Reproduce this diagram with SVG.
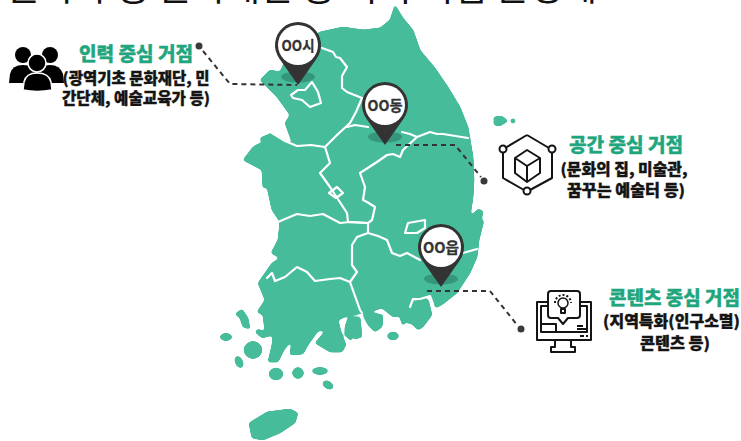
<svg xmlns="http://www.w3.org/2000/svg" width="741" height="441" viewBox="0 0 741 441">
<style>
.t{font-family:"Noto Sans CJK KR","Noto Sans",sans-serif;font-weight:900;text-anchor:middle;stroke-width:.35}
.h{font-size:19px;fill:#1fa67e;stroke:#1fa67e}
.b{font-size:15.5px;fill:#141414;stroke:#141414}
.title{font-size:38px;font-weight:400;fill:#111;stroke:none}
.land{fill:#47bc9a;stroke:#47bc9a;stroke-width:1;stroke-linejoin:round}
.border{fill:none;stroke:#fff;stroke-width:2.2;stroke-linejoin:round;stroke-linecap:round}
.dash{fill:none;stroke:#333;stroke-width:2;stroke-dasharray:5 4}
.dot{fill:#3a3a3a}
.ic{fill:none;stroke:#141414;stroke-width:2;stroke-linejoin:round}
.pt{font-family:"Noto Sans CJK KR","Noto Sans",sans-serif;font-weight:700;font-size:15px;fill:#333;text-anchor:middle;stroke:#333;stroke-width:.3}
</style>
<defs>
<filter id="soft" x="-5%" y="-5%" width="110%" height="110%" color-interpolation-filters="sRGB">
<feGaussianBlur stdDeviation="1.6" result="b"/>
<feComponentTransfer in="b" result="m"><feFuncA type="linear" slope="6" intercept="-2.5"/></feComponentTransfer>
<feFlood flood-color="#47bc9a"/>
<feComposite in2="m" operator="in"/>
</filter>
<filter id="blur1"><feGaussianBlur stdDeviation=".45"/></filter>
<g id="pin">
<ellipse cx="0" cy="32" rx="17" ry="5.5" fill="#2f8a70" opacity=".75"/>
<path d="M0 40 L-18.7 13.4 A23 23 0 1 1 18.7 13.4 Z" fill="#333"/>
<circle r="20" fill="#fff"/>
</g>
</defs>
<text class="t title" x="302" y="0" textLength="590" lengthAdjust="spacingAndGlyphs">문화 수용 문화재단 등 지역 거점 운영체</text>
<g id="map">
<g filter="url(#soft)">
<path class="land" d="M395 5L403 18L413 30L420 50L435 68L448 87L460 107L468 127L473 157L474 180L473 197L470 217L478 209L483 211L481 222L484 220L479 240L477 257L470 273L457 293L443 304L436 308L430 295L420 299L413 299L410 308L405 318L400 316L393 317L382 308L372 311L362 313L347 316L338 320L341 332L346 345L342 352L330 352L315 343L326 330L318 331L308 345L303 354L290 355L292 340L284 350L278 362L268 362L272 345L273 335L262 338L255 332L258 329L265 332L263 315L257 312L265 300L258 283L272 263L280 258L271 253L278 240L280 222L272 210L267 187L263 188L262 170L243 160L253 147L260 143L265 150L260 138L272 133L293 145L285 123L290 115L277 97L260 80L270 70L280 72L290 50L320 32L343 27L363 30L380 28L390 20Z"/>
<path class="land" d="M412 303L428 299L432 315L423 327L418 330L412 324L405 322L403 326L400 318Z"/>
<path class="land" d="M345 327L348 318L360 317L362 337L355 339L350 335L352 342L345 335Z"/>
<path class="land" d="M363 315L373 313L383 315L382 327L375 332L368 325Z"/>
<path class="land" d="M235 314L242 309L248 318L250 329L243 327L240 318Z"/>
<path class="land" d="M249 423L267 412L290 409L298 413L295 423L280 433L263 440L252 438Z"/>
<path class="land" d="M494 117L502 116L508 121L500 126L494 125Z"/>
<circle class="land" cx="513" cy="121" r="2.4"/>
<ellipse class="land" cx="226" cy="337" rx="6" ry="3.6"/>
<ellipse class="land" cx="253" cy="350" rx="9" ry="8.5"/>
<ellipse class="land" cx="239" cy="362" rx="3.6" ry="6" transform="rotate(-25 239 362)"/>
<ellipse class="land" cx="276" cy="374" rx="7" ry="6"/>
<circle class="land" cx="298" cy="373" r="5.5"/>
<ellipse class="land" cx="320" cy="371" rx="8" ry="3.4"/>
<ellipse class="land" cx="328" cy="385" rx="5.6" ry="3.6" transform="rotate(30 328 385)"/>
<ellipse class="land" cx="393" cy="336" rx="5.6" ry="4"/>
</g>
<g filter="url(#blur1)">
<path class="border" d="M291 95L298 90L305 90L312 82L318 92L321 103L310 107L302 100L293 98Z"/>
<path class="border" d="M322 48L333 52L336 57L340 58L347 67L342 76L342 88L347 92L362 98L356 112L350 123L337 135L325 147L311 145L297 146L285 141L272 133"/>
<path class="border" d="M347 127L355 125L368 127"/>
<path class="border" d="M402 132L410 134L417 137L430 132L437 134L443 134L468 138"/>
<path class="border" d="M417 137L403 150L400 157L393 154L387 155L377 162L360 173L365 187L363 200L367 202L375 207L372 220L368 223"/>
<path class="border" d="M325 147L330 163L320 173L330 187L347 213L348 222L368 223"/>
<path class="border" d="M329 193L337 187L343 193L336 198Z"/>
<path class="border" d="M278 222L285 219L297 214L310 216L323 214L340 223L350 222L368 223L368 233L357 237L352 245L352 265L357 272L350 282"/>
<path class="border" d="M368 233L378 236L387 240L392 253L400 256L407 253L420 260"/>
<path class="border" d="M463 253L477 249"/>
<path class="border" d="M267 278L272 273L275 281L285 277L297 267L307 272L315 281L330 279L340 278L350 282L360 310L362 313"/>
<path class="border" d="M405 233L408 223L425 220L425 228L417 233Z"/>
<path class="border" d="M410 307L413 299L420 299L430 296L433 304"/>
</g>
</g>
<g id="connectors">
<path class="dash" d="M203 51L230 84L297 85"/>
<circle class="dot" cx="199" cy="46" r="3.5"/>
<path class="dash" d="M396 145L455 145L481 177"/>
<circle class="dot" cx="484" cy="181" r="3.5"/>
<path class="dash" d="M427 291L490 291L518 326"/>
<circle class="dot" cx="521" cy="329" r="3.5"/>
</g>
<g id="pin-si"><use href="#pin" x="298" y="45"/><text class="pt" x="298" y="51" textLength="33" lengthAdjust="spacingAndGlyphs">OO시</text></g>
<g id="pin-dong"><use href="#pin" x="385" y="105"/><text class="pt" x="385" y="111" textLength="35" lengthAdjust="spacingAndGlyphs">OO동</text></g>
<g id="pin-eup"><use href="#pin" x="441" y="247"/><text class="pt" x="441" y="253" textLength="36" lengthAdjust="spacingAndGlyphs">OO읍</text></g>
<g id="people">
<circle cx="23" cy="55" r="8"/><circle cx="50" cy="55" r="8"/>
<path d="M9 83L10 74Q12 65 23 65Q34 65 36 74L36 83Z"/>
<path d="M37 83L38 74Q40 65 50 65Q60 65 63 74L64 83Z"/>
<circle cx="37" cy="63" r="9" stroke="#fff" stroke-width="1.5"/>
<path d="M23 90L24 82Q26 73 37 73Q49 73 51 82L52 90Q37 93 23 90Z" stroke="#fff" stroke-width="1.5"/>
</g>
<g id="label-people">
<text class="t h" x="136" y="61" textLength="114" lengthAdjust="spacingAndGlyphs">인력 중심 거점</text>
<text class="t b" x="136" y="84" textLength="147" lengthAdjust="spacingAndGlyphs">(광역기초 문화재단, 민</text>
<text class="t b" x="136" y="104" textLength="148" lengthAdjust="spacingAndGlyphs">간단체, 예술교육가 등)</text>
</g>
<g id="space-icon">
<path class="ic" d="M527 135L549 148M505 148L527 135M552 153L552 178L530 190M524 190L503 178L503 153"/>
<circle class="ic" cx="503" cy="149" r="3.5"/><circle class="ic" cx="552" cy="149" r="3.5"/><circle class="ic" cx="527" cy="191" r="3.5"/>
<path class="ic" d="M527 150L540 158L540 173L527 182L515 173L515 158ZM515 158L527 166L540 158M527 166L527 182"/>
</g>
<g id="label-space">
<text class="t h" x="626" y="152" textLength="114" lengthAdjust="spacingAndGlyphs">공간 중심 거점</text>
<text class="t b" x="624" y="175" textLength="127" lengthAdjust="spacingAndGlyphs">(문화의 집, 미술관,</text>
<text class="t b" x="626" y="196" textLength="118" lengthAdjust="spacingAndGlyphs">꿈꾸는 예술터 등)</text>
</g>
<g id="content-icon">
<path class="ic" d="M548 302L537 302L537 340L591 340L591 302L580 302M548 306L541 306L541 332L587 332L587 306L580 306"/>
<path class="ic" d="M541 324L556 324L556 332"/>
<path class="ic" d="M551 291L577 291Q580 291 580 294L580 315Q580 318 577 318L568 318L563 324L558 318L551 318Q548 318 548 315L548 294Q548 291 551 291Z"/>
<circle cx="563" cy="303" r="5" fill="none" stroke="#141414" stroke-width="1.5"/>
<path class="ic" stroke-width="1.5" d="M561 309L565 309L565 313L561 313Z"/>
<path class="ic" stroke-dasharray="2 2" stroke-width="1.2" d="M555 303A8 8 0 0 1 571 303"/>
<path class="ic" stroke-width="1.2" d="M577 326L583 326M577 329L586 329M580 336L584 336M586 336L588 336"/>
<path class="ic" d="M555 340L555 347L551 347L551 352L575 352L575 347L571 347L571 340"/>
</g>
<g id="label-content">
<text class="t h" x="674.5" y="305" textLength="131" lengthAdjust="spacingAndGlyphs">콘텐츠 중심 거점</text>
<text class="t b" x="671.5" y="327" textLength="137" lengthAdjust="spacingAndGlyphs">(지역특화(인구소멸)</text>
<text class="t b" x="675" y="349" textLength="70" lengthAdjust="spacingAndGlyphs">콘텐츠 등)</text>
</g>
</svg>
